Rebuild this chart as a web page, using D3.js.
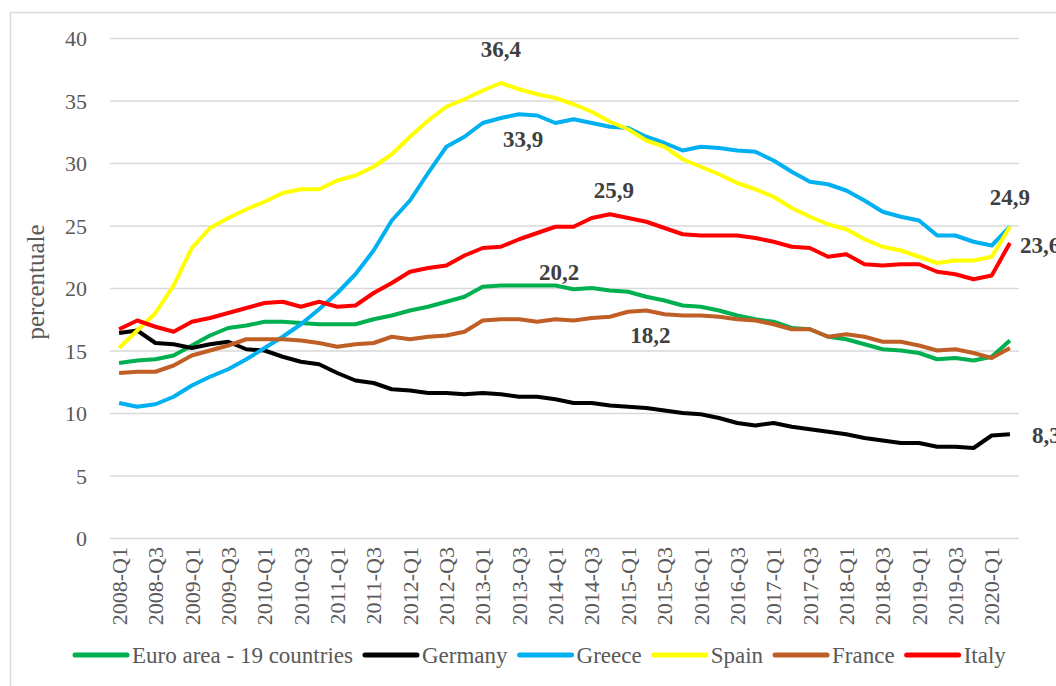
<!DOCTYPE html>
<html>
<head>
<meta charset="utf-8">
<script src="https://cdn.jsdelivr.net/npm/d3@7"></script>
<style>
  body { margin: 0; background: #fff; }
  svg text { font-family: "Liberation Serif", "DejaVu Serif", serif; }
</style>
</head>
<body>
<div id="chart"></div>
<script>
// quarters 2008-Q1 .. 2020-Q2
var quarters = [];
for (var yr = 2008; yr <= 2020; yr++) {
  for (var q = 1; q <= 4; q++) {
    if (yr == 2020 && q > 2) break;
    quarters.push(yr + "-Q" + q);
  }
}

var euroArea = [14.0, 14.2, 14.3, 14.6, 15.4, 16.2, 16.8, 17.0, 17.3, 17.3, 17.2, 17.1, 17.1, 17.1, 17.5, 17.8, 18.2, 18.5, 18.9, 19.3, 20.1, 20.2, 20.2, 20.2, 20.2, 19.9, 20.0, 19.8, 19.7, 19.3, 19.0, 18.6, 18.5, 18.2, 17.8, 17.5, 17.3, 16.8, 16.7, 16.1, 15.9, 15.5, 15.1, 15.0, 14.8, 14.3, 14.4, 14.2, 14.5, 15.8];
var germany = [16.4, 16.6, 15.6, 15.5, 15.2, 15.5, 15.7, 15.1, 15.0, 14.5, 14.1, 13.9, 13.2, 12.6, 12.4, 11.9, 11.8, 11.6, 11.6, 11.5, 11.6, 11.5, 11.3, 11.3, 11.1, 10.8, 10.8, 10.6, 10.5, 10.4, 10.2, 10.0, 9.9, 9.6, 9.2, 9.0, 9.2, 8.9, 8.7, 8.5, 8.3, 8.0, 7.8, 7.6, 7.6, 7.3, 7.3, 7.2, 8.2, 8.3];
var greece = [10.8, 10.5, 10.7, 11.3, 12.2, 12.9, 13.5, 14.3, 15.2, 16.1, 17.1, 18.3, 19.6, 21.1, 23.0, 25.4, 27.0, 29.2, 31.3, 32.1, 33.2, 33.6, 33.9, 33.8, 33.2, 33.5, 33.2, 32.9, 32.8, 32.1, 31.6, 31.0, 31.3, 31.2, 31.0, 30.9, 30.2, 29.3, 28.5, 28.3, 27.8, 27.0, 26.1, 25.7, 25.4, 24.2, 24.2, 23.7, 23.4, 24.9];
var spain = [15.2, 16.6, 18.0, 20.2, 23.2, 24.8, 25.6, 26.3, 26.9, 27.6, 27.9, 27.9, 28.6, 29.0, 29.7, 30.7, 32.1, 33.4, 34.5, 35.1, 35.8, 36.4, 35.9, 35.5, 35.2, 34.7, 34.1, 33.3, 32.7, 31.8, 31.3, 30.3, 29.7, 29.1, 28.4, 27.9, 27.3, 26.4, 25.7, 25.1, 24.7, 23.9, 23.3, 23.0, 22.5, 22.0, 22.2, 22.2, 22.5, 24.9];
var france = [13.2, 13.3, 13.3, 13.8, 14.6, 15.0, 15.4, 15.9, 15.9, 15.9, 15.8, 15.6, 15.3, 15.5, 15.6, 16.1, 15.9, 16.1, 16.2, 16.5, 17.4, 17.5, 17.5, 17.3, 17.5, 17.4, 17.6, 17.7, 18.1, 18.2, 17.9, 17.8, 17.8, 17.7, 17.5, 17.4, 17.1, 16.7, 16.7, 16.1, 16.3, 16.1, 15.7, 15.7, 15.4, 15.0, 15.1, 14.8, 14.4, 15.2];
var italy = [16.7, 17.4, 16.9, 16.5, 17.3, 17.6, 18.0, 18.4, 18.8, 18.9, 18.5, 18.9, 18.5, 18.6, 19.6, 20.4, 21.3, 21.6, 21.8, 22.6, 23.2, 23.3, 23.9, 24.4, 24.9, 24.9, 25.6, 25.9, 25.6, 25.3, 24.8, 24.3, 24.2, 24.2, 24.2, 24.0, 23.7, 23.3, 23.2, 22.5, 22.7, 21.9, 21.8, 21.9, 21.9, 21.3, 21.1, 20.7, 21.0, 23.6];

var seriesNames = ["Euro area - 19 countries", "Germany", "Greece", "Spain", "France", "Italy"];
var seriesColors = ["#00b050", "#000000", "#00b0f0", "#ffff00", "#bf5f26", "#ff0000"];
var seriesValues = [euroArea, germany, greece, spain, france, italy];
var yTicks = [0, 5, 10, 15, 20, 25, 30, 35, 40];

// labels shown on the chart: series index, quarter index, text
var labels = [
  { s: 3, i: 21, text: "36,4", dx: 0, dy: -26 },
  { s: 2, i: 22, text: "33,9", dx: 4, dy: 33 },
  { s: 5, i: 27, text: "25,9", dx: 4, dy: -16 },
  { s: 0, i: 23, text: "20,2", dx: 22, dy: -6 },
  { s: 4, i: 29, text: "18,2", dx: 4, dy: 32 },
  { s: 3, i: 49, text: "24,9", dx: 0, dy: -22 },
  { s: 5, i: 49, text: "23,6", dx: 10, dy: 10, anchor: "start" },
  { s: 1, i: 49, text: "8,3", dx: 22, dy: 9, anchor: "start" }
];

var FONT = "Liberation Serif";
var width = 1056, height = 686;
var margin = { top: 38, left: 110, right: 1019, bottom: 538 };

var svg = d3.select("#chart").append("svg")
  .attr("width", width)
  .attr("height", height)
  .attr("font-family", FONT);

svg.append("rect")
  .attr("x", 10.5).attr("y", 12.5)
  .attr("width", 1100).attr("height", 700)
  .attr("fill", "#fff")
  .attr("stroke", "#d9d9d9")
  .attr("stroke-width", 1.5);

var x = d3.scaleBand().domain(quarters).range([margin.left, margin.right]);
var y = d3.scaleLinear().domain([0, 40]).range([margin.bottom, margin.top]);

// gridlines
svg.append("g")
  .attr("transform", "translate(" + margin.left + ",0)")
  .call(d3.axisLeft(y).tickValues(yTicks).tickSize(-(margin.right - margin.left)).tickFormat(""))
  .call(function (g) {
    g.select(".domain").remove();
    g.selectAll("line").attr("stroke", "#d9d9d9").attr("stroke-width", 1.5);
  });

// y labels
svg.append("g")
  .attr("transform", "translate(" + (margin.left - 20) + ",0)")
  .call(d3.axisLeft(y).tickValues(yTicks).tickSize(0))
  .call(function (g) {
    g.attr("font-family", FONT).attr("font-size", 22);
    g.select(".domain").remove();
    g.selectAll("text")
      .attr("fill", "#595959")
      .attr("dy", "0.35em");
  });

// x labels every second quarter
svg.append("g")
  .attr("transform", "translate(0," + (margin.bottom + 9) + ")")
  .call(d3.axisBottom(x).tickValues(quarters.filter(function (d, i) { return i % 2 == 0; })).tickSize(0))
  .call(function (g) {
    g.attr("font-family", FONT).attr("font-size", 22);
    g.select(".domain").remove();
    g.selectAll("text")
      .attr("fill", "#595959")
      .attr("transform", "rotate(-90)")
      .attr("text-anchor", "end")
      .attr("x", 0)
      .attr("y", 0)
      .attr("dx", 0)
      .attr("dy", "0.35em");
  });

svg.append("text")
  .attr("transform", "translate(44," + 282 + ") rotate(-90)")
  .attr("text-anchor", "middle")
  .attr("font-size", 25)
  .attr("fill", "#595959")
  .text("percentuale");

var line = d3.line()
  .x(function (d, i) { return x(quarters[i]) + x.bandwidth() / 2; })
  .y(function (d) { return y(d); });

seriesValues.forEach(function (vals, s) {
  svg.append("path")
    .datum(vals)
    .attr("fill", "none")
    .attr("stroke", seriesColors[s])
    .attr("stroke-width", 4)
    .attr("stroke-linejoin", "round")
    .attr("d", line);
});

labels.forEach(function (l) {
  svg.append("text")
    .attr("x", x(quarters[l.i]) + x.bandwidth() / 2 + l.dx)
    .attr("y", y(seriesValues[l.s][l.i]) + l.dy)
    .attr("text-anchor", l.anchor || "middle")
    .attr("font-size", 23)
    .attr("font-weight", "bold")
    .attr("fill", "#404040")
    .text(l.text);
});

// legend
var lx = 73, ly = 655;
seriesNames.forEach(function (name, s) {
  svg.append("line")
    .attr("x1", lx + 2).attr("x2", lx + 54)
    .attr("y1", ly).attr("y2", ly)
    .attr("stroke", seriesColors[s])
    .attr("stroke-width", 5)
    .attr("stroke-linecap", "round");
  var t = svg.append("text")
    .attr("x", lx + 59)
    .attr("y", ly + 8)
    .attr("font-size", 23)
    .attr("fill", "#595959")
    .text(name);
  lx = lx + 59 + t.node().getComputedTextLength() + 10;
});
</script>
</body>
</html>
